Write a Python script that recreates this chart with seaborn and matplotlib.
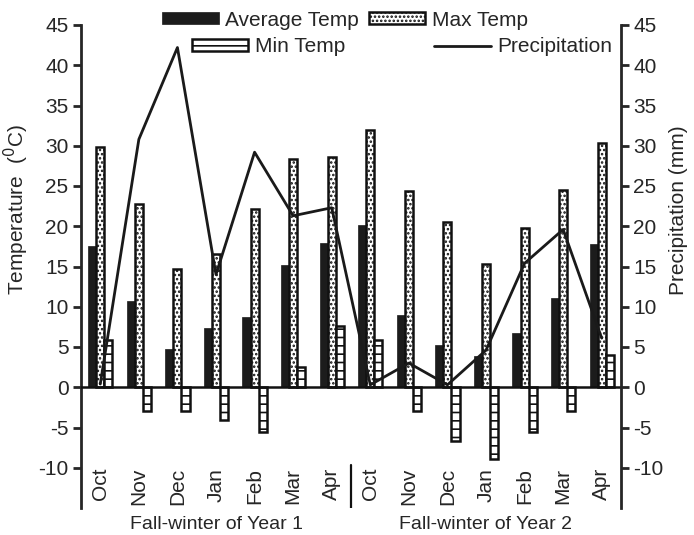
import numpy as np
import pandas as pd
import matplotlib
matplotlib.use("Agg")
import matplotlib.pyplot as plt
import matplotlib.transforms as mtransforms
from matplotlib.patches import Patch
from matplotlib.lines import Line2D
import seaborn as sns

months = ["Oct", "Nov", "Dec", "Jan", "Feb", "Mar", "Apr",
          "Oct", "Nov", "Dec", "Jan", "Feb", "Mar", "Apr"]
avg_temp = [17.5, 10.7, 4.7, 7.3, 8.7, 15.2, 17.9,
            20.1, 9.0, 5.3, 3.9, 6.8, 11.1, 17.8]
max_temp = [29.9, 22.8, 14.7, 16.5, 22.2, 28.4, 28.6,
            32.0, 24.4, 20.5, 15.3, 19.8, 24.5, 30.3]
min_temp = [5.9, -2.9, -3.0, -4.1, -5.6, 2.5, 7.6,
            5.9, -2.9, -6.7, -8.9, -5.6, -2.9, 4.0]
precip = [0.4, 30.8, 42.2, 14.0, 29.2, 21.3, 22.3,
          0.3, 3.0, 0.3, 4.6, 15.4, 19.6, 6.1]
season_labels = ["Fall-winter of Year 1", "Fall-winter of Year 2"]
series_names = ["Average Temp", "Max Temp", "Min Temp"]

sns.set_style("ticks")
plt.rcParams["font.family"] = ["Liberation Sans", "DejaVu Sans"]
plt.rcParams["axes.unicode_minus"] = False
plt.rcParams["hatch.linewidth"] = 1.2

FS = 15

idx = list(range(len(months)))
df = pd.DataFrame({
    "pos": idx * 3,
    "value": avg_temp + max_temp + min_temp,
    "series": [series_names[0]] * len(idx) + [series_names[1]] * len(idx) + [series_names[2]] * len(idx),
})

fig = plt.figure(figsize=(6.94, 5.35), dpi=100)
ax = fig.add_axes([81 / 694, 1 - 508 / 535, 540 / 694, 483 / 535])

sns.barplot(data=df, x="pos", y="value", hue="series", hue_order=series_names,
            order=idx, width=0.63, dodge=True, ax=ax, legend=False,
            palette=["#1c1c1c", "white", "white"], saturation=1, errorbar=None)

styles = [
    dict(facecolor="#1c1c1c", edgecolor="#1c1c1c", linewidth=0.5, hatch=None),
    dict(facecolor="white", edgecolor="#111111", linewidth=1.8, hatch="...."),
    dict(facecolor="white", edgecolor="#111111", linewidth=1.8, hatch="--"),
]
for cont, st in zip(ax.containers, styles):
    for bar in cont:
        bar.set_facecolor(st["facecolor"])
        bar.set_edgecolor(st["edgecolor"])
        bar.set_linewidth(st["linewidth"])
        bar.set_hatch(st["hatch"])

ax.set_xlim(-0.5, len(months) - 0.5)
ax.set_ylim(-15, 45)
ax.set_yticks(np.arange(-10, 46, 5))
ax.set_xticks([])
ax.set_xlabel("")
ax.axhline(0, color="#111111", lw=1.8, zorder=5)

for s in ["top", "bottom", "right"]:
    ax.spines[s].set_visible(False)
ax.spines["left"].set_linewidth(2)
ax.tick_params(axis="y", direction="out", length=6, width=2, labelsize=FS, pad=3)

ax.set_ylabel("Temperature  ($^{0}$C)", fontsize=FS)
ax.yaxis.set_label_coords(-0.092, 0.617)

# month labels inside the bottom band
for i, m in zip(idx, months):
    ax.text(i, -10.0, m, rotation=90, ha="center", va="top", fontsize=FS)

# separator between the two seasons
ax.axvline(6.5, ymin=0, ymax=(15 - 9.6) / 60, color="#111111", lw=1.6)

# season labels below
trans = mtransforms.blended_transform_factory(ax.transData, ax.transAxes)
for center, lab in zip([3, 10], season_labels):
    ax.text(center, -0.034, lab, transform=trans, ha="center", va="center", fontsize=14)

# precipitation on right axis
ax2 = ax.twinx()
sns.lineplot(x=idx, y=precip, ax=ax2, color="#1a1a1a", lw=2)
ax2.set_ylim(-15, 45)
ax2.set_yticks(np.arange(-10, 46, 5))
for s in ["top", "bottom", "left"]:
    ax2.spines[s].set_visible(False)
ax2.spines["right"].set_linewidth(2)
ax2.tick_params(axis="y", direction="out", length=6, width=2, labelsize=FS, pad=3)
ax2.set_ylabel("Precipitation (mm)", fontsize=FS)
ax2.yaxis.set_label_coords(1.088, 0.617)

# legends (two rows)
h_avg = Patch(**styles[0])
h_max = Patch(**styles[1])
h_min = Patch(**styles[2])
h_pre = Line2D([], [], color="#1a1a1a", lw=2)
leg1 = fig.legend([h_avg, h_max], series_names[:2], ncol=2, loc="center",
                  bbox_to_anchor=(345 / 694, 1 - 20 / 535), frameon=False,
                  fontsize=FS, handlelength=2.7, handleheight=0.5,
                  handletextpad=0.3, columnspacing=0.5, borderpad=0)
leg2 = fig.legend([h_min, h_pre], [series_names[2], "Precipitation"], ncol=2, loc="center",
                  bbox_to_anchor=(402 / 694, 1 - 47 / 535), frameon=False,
                  fontsize=FS, handlelength=2.7, handleheight=0.5,
                  handletextpad=0.3, columnspacing=4.3, borderpad=0)

fig.savefig("out.png", dpi=100)
